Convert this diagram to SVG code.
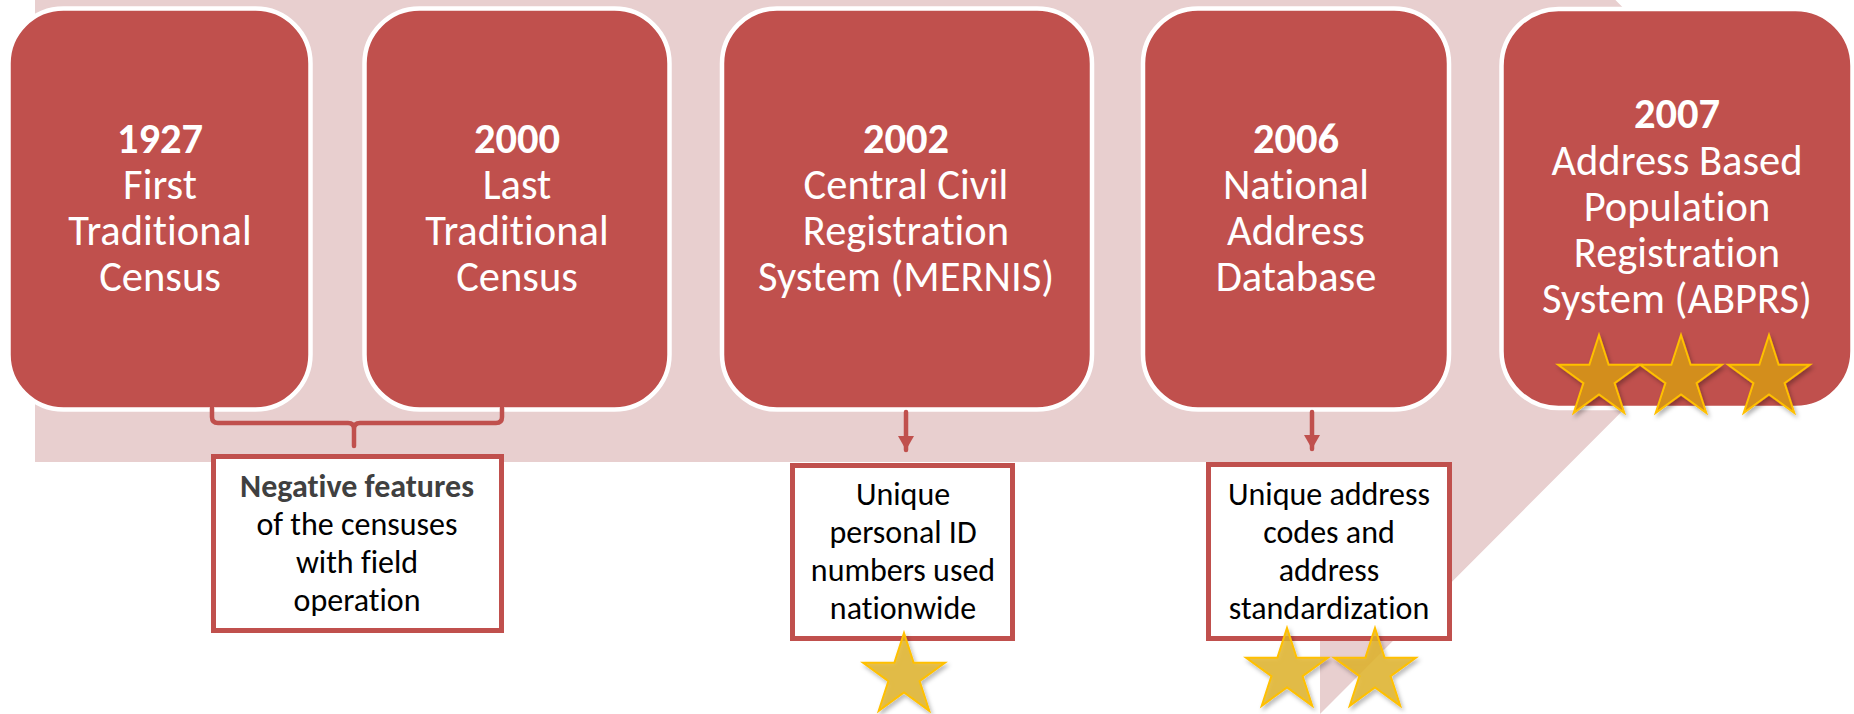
<svg xmlns="http://www.w3.org/2000/svg" width="1854" height="714" viewBox="0 0 1854 714">
  <style>
    text { font-variant-ligatures: none; }
    .band { fill: #E8CFCF; }
    .stage { fill: #C0504D; stroke: #FFFFFF; stroke-width: 4.5; }
    .title { font-family: Carlito, Calibri, Lato, "Liberation Sans", sans-serif; font-size: 42.5px; fill: #FFFFFF; text-anchor: middle; }
    .title .yr { font-weight: bold; }
    .note { fill: #FFFFFF; stroke: #C0504D; stroke-width: 5; }
    .ntext { font-family: Carlito, Calibri, Lato, "Liberation Sans", sans-serif; font-size: 32px; fill: #000000; text-anchor: middle; }
    .ntext .hl { font-weight: bold; fill: #404040; }
    .link { fill: none; stroke: #C0504D; stroke-width: 4.5; stroke-linecap: round; stroke-linejoin: round; }
    .star-dark { fill: #D38E1B; stroke: #FFC000; stroke-width: 2; }
    .star-light { fill: #E2B42A; fill-opacity: 0.82; stroke: #FFC000; stroke-width: 2; }
  </style>
  <defs>
    <path id="star" d="M0,-43 L9.64,-13.27 L40.9,-13.29 L15.6,5.07 L25.27,34.79 L0,16.4 L-25.27,34.79 L-15.6,5.07 L-40.9,-13.29 L-9.64,-13.27 Z"/>
    <filter id="shadow" x="-30%" y="-30%" width="160%" height="160%">
      <feDropShadow dx="2" dy="3" stdDeviation="2" flood-color="#000000" flood-opacity="0.3"/>
    </filter>
    <marker id="head" markerUnits="userSpaceOnUse" markerWidth="18" markerHeight="16" refX="14" refY="8" orient="auto">
      <path d="M0,0 L14,8 L0,16 Z" fill="#C0504D"/>
    </marker>
  </defs>

  <!-- wide background arrow running under the timeline -->
  <polygon class="band" points="35,-44 1320,-44 1320,-296 1824,209 1320,714 1320,462 35,462"/>

  <!-- timeline stages -->
  <g id="stage-1927">
    <rect class="stage" x="8.5" y="8.5" width="302" height="401" rx="55" ry="55"/>
    <text class="title"><tspan class="yr" x="160" y="153">1927</tspan><tspan x="160" y="199">First</tspan><tspan x="160" y="245">Traditional</tspan><tspan x="160" y="291">Census</tspan></text>
  </g>
  <g id="stage-2000">
    <rect class="stage" x="364.5" y="8.5" width="305" height="401" rx="55" ry="55"/>
    <text class="title"><tspan class="yr" x="517" y="153">2000</tspan><tspan x="517" y="199">Last</tspan><tspan x="517" y="245">Traditional</tspan><tspan x="517" y="291">Census</tspan></text>
  </g>
  <g id="stage-2002">
    <rect class="stage" x="722" y="8.5" width="370" height="401" rx="55" ry="55"/>
    <text class="title"><tspan class="yr" x="906" y="153">2002</tspan><tspan x="906" y="199">Central Civil</tspan><tspan x="906" y="245">Registration</tspan><tspan x="906" y="291">System (MERNIS)</tspan></text>
  </g>
  <g id="stage-2006">
    <rect class="stage" x="1143" y="8.5" width="306" height="401" rx="55" ry="55"/>
    <text class="title"><tspan class="yr" x="1296" y="153">2006</tspan><tspan x="1296" y="199">National</tspan><tspan x="1296" y="245">Address</tspan><tspan x="1296" y="291">Database</tspan></text>
  </g>
  <g id="stage-2007">
    <rect class="stage" x="1501.5" y="9" width="351" height="399" rx="57" ry="57"/>
    <text class="title"><tspan class="yr" x="1677" y="128">2007</tspan><tspan x="1677" y="175">Address Based</tspan><tspan x="1677" y="221">Population</tspan><tspan x="1677" y="267">Registration</tspan><tspan x="1677" y="313">System (ABPRS)</tspan></text>
    <use href="#star" class="star-dark" filter="url(#shadow)" x="1599" y="378"/>
    <use href="#star" class="star-dark" filter="url(#shadow)" x="1681" y="378"/>
    <use href="#star" class="star-dark" filter="url(#shadow)" x="1769" y="378"/>
  </g>

  <!-- connectors -->
  <g id="connectors">
    <path class="link" d="M212,408 V417 Q212,423 218,423 H348 Q354,423 354,429 V446 M354,429 Q354,423 360,423 H496 Q502,423 502,417 V408"/>
    <line class="link" x1="906" y1="412" x2="906" y2="450" marker-end="url(#head)" stroke-linecap="butt"/>
    <line class="link" x1="1312" y1="412" x2="1312" y2="449" marker-end="url(#head)" stroke-linecap="butt"/>
  </g>

  <!-- outcome notes -->
  <g id="note-censuses">
    <rect class="note" x="213.5" y="456.5" width="288" height="174"/>
    <text class="ntext"><tspan class="hl" x="357" y="497">Negative features</tspan><tspan x="357" y="535">of the censuses</tspan><tspan x="357" y="573">with field</tspan><tspan x="357" y="611">operation</tspan></text>
  </g>
  <g id="note-mernis">
    <rect class="note" x="792.5" y="465.5" width="220" height="173"/>
    <text class="ntext"><tspan x="903" y="505">Unique</tspan><tspan x="903" y="543">personal ID</tspan><tspan x="903" y="581">numbers used</tspan><tspan x="903" y="619">nationwide</tspan></text>
    <use href="#star" class="star-light" filter="url(#shadow)" x="904" y="676"/>
  </g>
  <g id="note-address">
    <rect class="note" x="1208.5" y="464.5" width="241" height="174"/>
    <text class="ntext"><tspan x="1329" y="505">Unique address</tspan><tspan x="1329" y="543">codes and</tspan><tspan x="1329" y="581">address</tspan><tspan x="1329" y="619">standardization</tspan></text>
    <use href="#star" class="star-light" filter="url(#shadow)" x="1287" y="671"/>
    <use href="#star" class="star-light" filter="url(#shadow)" x="1375" y="671"/>
  </g>
</svg>
